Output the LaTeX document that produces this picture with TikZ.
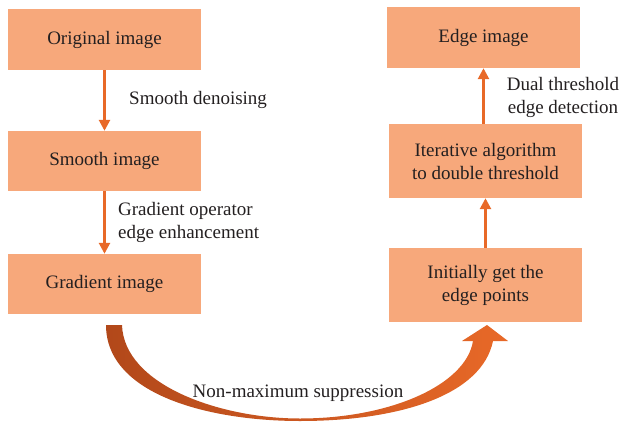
\documentclass[tikz,border=0pt]{standalone}
\usepackage{fontspec}
\usetikzlibrary{arrows.meta}
\setmainfont{Liberation Serif}
\definecolor{boxfill}{RGB}{247,168,123}
\definecolor{arr}{RGB}{232,105,40}
\definecolor{arrdark}{RGB}{178,72,26}
\definecolor{txt}{RGB}{35,31,32}
\begin{document}
\begin{tikzpicture}[x=1pt,y=-1pt,
  stepbox/.style={fill=boxfill,draw=none,minimum width=193pt,inner sep=0pt,align=center,text=txt,font=\fontsize{19}{23}\selectfont},
  lbl/.style={text=txt,font=\fontsize{19}{23}\selectfont,inner sep=0pt},
  flow/.style={draw=arr,line width=2.6pt,-{Triangle[length=11pt,width=11pt]}}]
\useasboundingbox (0,0) rectangle (622,421);
\node[stepbox,minimum height=61pt] (orig) at (104.5,39.5) {Original image};
\node[stepbox,minimum height=60pt] (smooth) at (104.5,161) {Smooth image};
\node[stepbox,minimum height=60pt] (grad) at (104.5,284) {Gradient image};
\node[stepbox,minimum height=61pt] (edge) at (483.5,37.5) {Edge image};
\node[stepbox,minimum height=74pt] (iter) at (485.5,161) {Iterative algorithm\\to double threshold};
\node[stepbox,minimum height=74pt] (init) at (485.5,285) {Initially get the\\edge points};
\draw[flow] (orig) -- (smooth);
\draw[flow] (smooth) -- (grad);
\draw[flow] (init) -- (iter);
\draw[flow] (iter.north -| edge) -- (edge);
\node[lbl,anchor=west] (l1) at (129,100) {Smooth denoising};
\node[lbl,anchor=west,align=left] (l2) at (118,222) {Gradient operator\\edge enhancement};
\node[lbl,align=center] (l3) at (563,97) {Dual threshold\\edge detection};
\shade[left color=arrdark,right color=arr]
  (106,325) -- (122,325)
  .. controls (124,385) and (220,418.5) .. (300,418.5)
  .. controls (390,418.5) and (466,385) .. (473,341)
  -- (462,341) -- (487,325) -- (508,341) -- (493,341)
  .. controls (482,395) and (400,421) .. (300,421)
  .. controls (210,421) and (106,395) .. (106,325) -- cycle;
\node[lbl] (l4) at (298,393) {Non-maximum suppression};
\end{tikzpicture}
\end{document}
